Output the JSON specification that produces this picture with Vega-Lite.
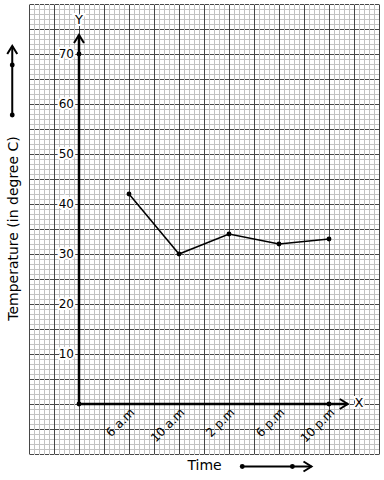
{
  "$schema": "https://vega.github.io/schema/vega-lite/v6.json",
  "width": 350,
  "height": 450,
  "autosize": {"type": "none"},
  "padding": {"left": 29, "top": 4, "right": 5, "bottom": 26},
  "background": "white",
  "config": {"view": {"stroke": null}, "font": "DejaVu Sans"},
  "data": {"values": [{}]},
  "datasets": {
    "temps": [
      {"time": "6 a.m", "hour": 6, "temp": 42},
      {"time": "10 a.m", "hour": 10, "temp": 30},
      {"time": "2 p.m", "hour": 14, "temp": 34},
      {"time": "6 p.m", "hour": 18, "temp": 32},
      {"time": "10 p.m", "hour": 22, "temp": 33}
    ],
    "ylabels": [
      {"v": 10}, {"v": 20}, {"v": 30}, {"v": 40}, {"v": 50}, {"v": 60}, {"v": 70}
    ],
    "axisdots": [
      {"hour": 2, "temp": 0}, {"hour": 2, "temp": 70}, {"hour": 22, "temp": 0}
    ]
  },
  "layer": [
    {
      "data": {"name": "temps"},
      "mark": {"type": "line", "color": "black", "strokeWidth": 1.5},
      "encoding": {
        "x": {
          "field": "hour", "type": "quantitative",
          "scale": {"domain": [-2, 26], "nice": false, "zero": false},
          "axis": {
            "grid": true, "labels": false, "ticks": false, "domain": false, "title": null,
            "gridColor": "#c2c2c2", "gridWidth": 1, "gridOpacity": 1,
            "values": [-1.6,-1.2,-0.8,-0.4,0.4,0.8,1.2,1.6,2.4,2.8,3.2,3.6,4.4,4.8,5.2,5.6,6.4,6.8,7.2,7.6,8.4,8.8,9.2,9.6,10.4,10.8,11.2,11.6,12.4,12.8,13.2,13.6,14.4,14.8,15.2,15.6,16.4,16.8,17.2,17.6,18.4,18.8,19.2,19.6,20.4,20.8,21.2,21.6,22.4,22.8,23.2,23.6,24.4,24.8,25.2,25.6]
          }
        },
        "y": {
          "field": "temp", "type": "quantitative",
          "scale": {"domain": [-10, 80], "nice": false, "zero": false},
          "axis": {
            "grid": true, "labels": false, "ticks": false, "domain": false, "title": null,
            "gridColor": "#c2c2c2", "gridWidth": 1, "gridOpacity": 1,
            "gridDash": [24, 1], "gridDashOffset": 24.5,
            "values": [-9,-8,-7,-6,-4,-3,-2,-1,1,2,3,4,6,7,8,9,11,12,13,14,16,17,18,19,21,22,23,24,26,27,28,29,31,32,33,34,36,37,38,39,41,42,43,44,46,47,48,49,51,52,53,54,56,57,58,59,61,62,63,64,66,67,68,69,71,72,73,74,76,77,78,79]
          }
        }
      }
    },
    {
      "data": {"name": "temps"},
      "mark": {"type": "point", "filled": true, "color": "black", "size": 24, "opacity": 1},
      "encoding": {
        "x": {
          "field": "hour", "type": "quantitative",
          "axis": {
            "grid": true, "labels": false, "ticks": false, "domain": false, "title": null,
            "gridColor": "#474747", "gridWidth": 1, "gridOpacity": 1,
            "values": [-2,0,2,4,6,8,10,12,14,16,18,20,22,24,26]
          }
        },
        "y": {
          "field": "temp", "type": "quantitative",
          "axis": {
            "grid": true, "labels": false, "ticks": false, "domain": false, "title": null,
            "gridColor": "#474747", "gridWidth": 1, "gridOpacity": 1,
            "gridDash": [4, 1], "gridDashOffset": 4.5,
            "values": [-10,-5,0,5,10,15,20,25,30,35,40,45,50,55,60,65,70,75,80]
          }
        }
      }
    },
    {
      "data": {"name": "ylabels"},
      "mark": {"type": "text", "align": "right", "baseline": "middle", "dx": -5, "fontSize": 12, "fill": "white", "stroke": "white", "strokeWidth": 4},
      "encoding": {
        "x": {"datum": 2, "type": "quantitative", "axis": null},
        "y": {"field": "v", "type": "quantitative", "axis": null},
        "text": {"field": "v", "type": "quantitative"}
      }
    },
    {
      "data": {"name": "ylabels"},
      "mark": {"type": "text", "align": "right", "baseline": "middle", "dx": -5, "fontSize": 12, "color": "black"},
      "encoding": {
        "x": {"datum": 2, "type": "quantitative", "axis": null},
        "y": {"field": "v", "type": "quantitative", "axis": null},
        "text": {"field": "v", "type": "quantitative"}
      }
    },
    {
      "mark": {"type": "text", "text": "Y", "fontSize": 13, "align": "center", "baseline": "middle", "fill": "white", "stroke": "white", "strokeWidth": 4},
      "encoding": {"x": {"datum": 2, "axis": null}, "y": {"datum": 76.8, "axis": null}}
    },
    {
      "mark": {"type": "text", "text": "X", "fontSize": 13, "align": "center", "baseline": "middle", "fill": "white", "stroke": "white", "strokeWidth": 4},
      "encoding": {"x": {"datum": 24.4, "axis": null}, "y": {"datum": 0.2, "axis": null}}
    },
    {
      "mark": {"type": "rule", "color": "black", "strokeWidth": 2.5},
      "encoding": {"x": {"datum": 2, "axis": null}, "y": {"datum": 0, "axis": null}, "y2": {"datum": 73.8}}
    },
    {
      "mark": {"type": "rule", "color": "black", "strokeWidth": 2.5},
      "encoding": {"x": {"datum": 2, "axis": null}, "x2": {"datum": 23.5}, "y": {"datum": 0, "axis": null}}
    },
    {
      "mark": {"type": "point", "shape": "M-1,1.6L0,0L1,1.6", "filled": false, "color": "black", "strokeWidth": 2, "size": 100, "opacity": 1},
      "encoding": {"x": {"datum": 2, "axis": null}, "y": {"datum": 73.8, "axis": null}}
    },
    {
      "mark": {"type": "point", "shape": "M-1.6,-1L0,0L-1.6,1", "filled": false, "color": "black", "strokeWidth": 2, "size": 100, "opacity": 1},
      "encoding": {"x": {"datum": 23.5, "axis": null}, "y": {"datum": 0, "axis": null}}
    },
    {
      "data": {"name": "axisdots"},
      "mark": {"type": "point", "filled": true, "color": "black", "size": 24, "opacity": 1},
      "encoding": {"x": {"field": "hour", "type": "quantitative", "axis": null}, "y": {"field": "temp", "type": "quantitative", "axis": null}}
    },
    {
      "mark": {"type": "text", "text": "Y", "fontSize": 13, "align": "center", "baseline": "middle", "color": "black"},
      "encoding": {"x": {"datum": 2, "axis": null}, "y": {"datum": 76.8, "axis": null}}
    },
    {
      "mark": {"type": "text", "text": "X", "fontSize": 13, "align": "center", "baseline": "middle", "color": "black"},
      "encoding": {"x": {"datum": 24.4, "axis": null}, "y": {"datum": 0.2, "axis": null}}
    },
    {
      "data": {"name": "temps"},
      "mark": {"type": "text", "angle": 315, "align": "right", "baseline": "middle", "dx": -2, "dy": 7, "fontSize": 12, "color": "black"},
      "encoding": {
        "x": {"field": "hour", "type": "quantitative", "axis": null},
        "y": {"datum": 0, "axis": null},
        "text": {"field": "time", "type": "nominal"}
      }
    },
    {
      "mark": {"type": "text", "text": "Time", "fontSize": 14, "align": "center", "baseline": "middle", "color": "black"},
      "encoding": {"x": {"datum": 12.04, "axis": null}, "y": {"datum": -12.4, "axis": null}}
    },
    {
      "mark": {"type": "text", "text": "Temperature (in degree C)", "angle": 270, "fontSize": 14, "align": "center", "baseline": "middle", "color": "black"},
      "encoding": {"x": {"datum": -3.24, "axis": null}, "y": {"datum": 35.1, "axis": null}}
    },
    {
      "mark": {"type": "rule", "color": "black", "strokeWidth": 2},
      "encoding": {"x": {"datum": -3.34, "axis": null}, "y": {"datum": 57.8, "axis": null}, "y2": {"datum": 71.6}}
    },
    {
      "mark": {"type": "point", "shape": "M-1,1.6L0,0L1,1.6", "filled": false, "color": "black", "strokeWidth": 2, "size": 100, "opacity": 1},
      "encoding": {"x": {"datum": -3.34, "axis": null}, "y": {"datum": 71.6, "axis": null}}
    },
    {
      "mark": {"type": "rule", "color": "black", "strokeWidth": 2},
      "encoding": {"x": {"datum": 15.06, "axis": null}, "x2": {"datum": 20.6}, "y": {"datum": -12.5, "axis": null}}
    },
    {
      "mark": {"type": "point", "shape": "M-1.6,-1L0,0L-1.6,1", "filled": false, "color": "black", "strokeWidth": 2, "size": 100, "opacity": 1},
      "encoding": {"x": {"datum": 20.6, "axis": null}, "y": {"datum": -12.5, "axis": null}}
    },
    {
      "data": {"values": [
        {"hour": -3.34, "temp": 57.8}, {"hour": -3.34, "temp": 67.8},
        {"hour": 15.06, "temp": -12.5}, {"hour": 19.07, "temp": -12.5}
      ]},
      "mark": {"type": "point", "filled": true, "color": "black", "size": 24, "opacity": 1},
      "encoding": {"x": {"field": "hour", "type": "quantitative", "axis": null}, "y": {"field": "temp", "type": "quantitative", "axis": null}}
    }
  ],
  "resolve": {"axis": {"x": "independent", "y": "independent"}}
}
